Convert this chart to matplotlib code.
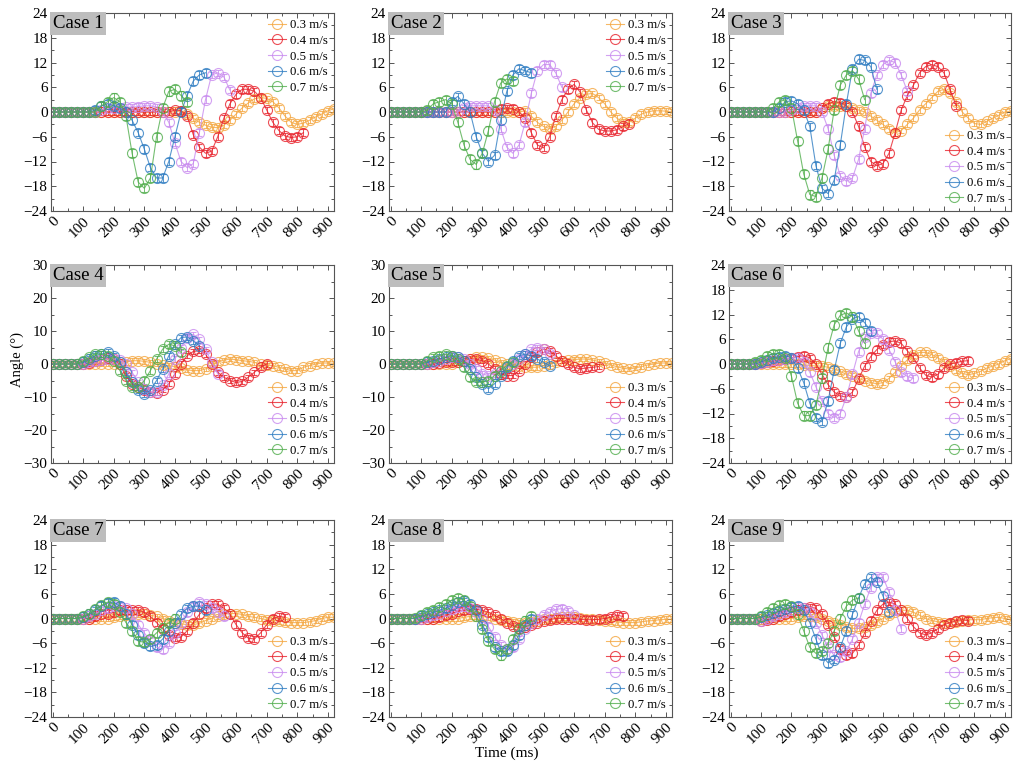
import numpy as np
import matplotlib
matplotlib.use("Agg")
import matplotlib.pyplot as plt
from matplotlib.ticker import MultipleLocator

plt.rcParams['font.family'] = ['Liberation Serif', 'DejaVu Serif']
plt.rcParams['mathtext.fontset'] = 'stix'

# angle (deg) sampled every 20 ms from t = 0, one list per walking speed
speeds = ['0.3 m/s', '0.4 m/s', '0.5 m/s', '0.6 m/s', '0.7 m/s']
colors = ['#F4A640', '#E8222C', '#C98BEF', '#2F7DC2', '#52AE4E']
err_deg = [0.7, 0.8, 0.8, 0.9, 1.0]

case1 = [
    [0]*21 + [0.3, -0.5, -1.5, -2.5, -3.2, -3.7, -3.8, -3.2, -2, -0.5, 1, 2.2, 3.2, 3.5, 3.3, 2.5, 1, -1, -2.5, -3, -2.7, -2, -1.2, -0.5, 0.3, 0.8],
    [0]*20 + [0.5, 0.3, -1, -5.5, -8.5, -10, -9.5, -6, -1.5, 2, 4.3, 5.5, 5.5, 5, 3.5, 0.5, -2.5, -4.5, -5.8, -6.2, -6, -5],
    [0]*8 + [0.5, 1, 1, 1, 1.2, 1.2, 1.3, 1.5, 1.5, 1.2, 0, -2.5, -7.5, -12, -13.5, -12.5, -5, 3, 9, 9.5, 8.5, 5.3],
    [0]*7 + [0.5, 1.5, 2, 1.5, 1, 0, -2, -5, -9, -13.5, -16, -16, -12, -6, 0, 4, 7.5, 9, 9.5],
    [0]*8 + [1.5, 2.5, 3.5, 2.5, -1, -10, -17, -18.5, -16, -6, 1, 5, 5.5, 4, 2.5],
]
case2 = [
    [0]*22 + [0.3, -1, -2.5, -3.5, -4, -3.5, -2, 0, 2, 3.5, 4.3, 4.5, 3.5, 2, 0, -1.5, -2.5, -2.5, -1.5, -0.5, 0, 0.3, 0.3, 0.2, 0],
    [0]*18 + [0.8, 1, 0.8, 0, -1.5, -5, -8, -8.7, -6, -1, 3, 5.5, 6.7, 4.8, 0.5, -2.6, -4.2, -4.6, -4.6, -4.3, -3.5, -2.8],
    [0]*12 + [1, 1.5, 1.5, 1.5, 1.5, 0.5, -4, -8.5, -10, -8, -2.5, 4.5, 10, 11.5, 11.5, 9.5, 6],
    [0]*10 + [2.5, 3.8, 2, 0, -6, -10, -12, -10.5, -2, 5, 9, 10.5, 10, 9.5],
    [0]*6 + [0.5, 2, 2.5, 3, 2, -2.5, -8, -11.5, -12.7, -10, -4.5, 2.5, 7, 8, 7.5],
]
case3 = [
    [0]*15 + [1, 1.5, 1.5, 1.5, 1.5, 1, 0.5, 0, -1, -2, -3, -4.2, -5, -4.5, -3, -1.5, 0.5, 2, 3.5, 5, 5.5, 4.5, 2.5, 0, -1.5, -2.8, -3, -2.3, -1.5, -0.8, 0, 0.2],
    [0]*15 + [1, 2, 2.5, 2.3, 1.5, 0, -3.5, -8.5, -12, -13, -12.5, -10, -5, 0.5, 4, 6.5, 9.5, 11, 11.5, 11, 9.5, 5.5, 1.5],
    [0]*10 + [0.5, 1, 1.5, 1.5, 1.5, 0, -4, -10.5, -15.5, -16.8, -16, -11.5, -4, 4.5, 9, 11.5, 12.5, 12, 9, 5],
    [0]*8 + [1, 2.5, 2.7, 2, 0.5, -3.5, -13, -18.5, -19.8, -16.5, -8, 2, 10.5, 12.8, 12.5, 11, 5.5],
    [0]*7 + [1, 2.5, 3, 1, -7, -15, -20, -20.5, -16, -9, 0.5, 6.5, 9, 10, 8, 3],
]
case4 = [
    [0]*12 + [0.5, 1, 1, 0.8, 0.5, 0, -0.3, -0.5, -0.8, -1.2, -1.8, -2, -2, -1.5, -0.5, 0.5, 1.2, 1.5, 1.3, 1, 0.8, 0.5, 0, -0.3, -0.5, -1, -1.5, -2, -2, -1, -0.5, 0, 0.3, 0.3, 0.2],
    [0]*6 + [0.3, 0.8, 1.2, 1.8, 1.5, 0, -3.5, -6, -7, -8, -8.5, -8.7, -7.8, -6, -3, 0, 2.5, 3.8, 4, 3, 0, -2.5, -4, -5, -5.6, -5.3, -4, -2.5, -1, 0],
    [0]*6 + [0.5, 1, 1.2, 1.5, 1.5, 1.2, 0, -2.5, -5.5, -7.5, -8.5, -8.5, -6.5, -3, 1.5, 5, 8, 9, 7.5, 4.5, 0.5, -3],
    [0]*5 + [0.5, 1.5, 2.5, 3, 3.5, 2.5, 0.5, -2.5, -5.5, -8, -9.2, -8, -5, -1.5, 2.5, 6, 8, 8.2, 7, 5.5],
    [0]*5 + [1, 2, 3, 3, 2.5, 1, -2, -5, -7, -7, -5, -2, 1.5, 4.5, 6, 5.5, 3.5],
]
case5 = [
    [0]*11 + [0.5, 1, 1.5, 2, 2, 1.8, 1.2, 0.5, 0, -0.3, -0.5, -0.8, -1, -1, -0.5, 0, 0.5, 1, 1.2, 1.3, 1.5, 1.5, 1.2, 0.8, 0.3, -0.3, -0.8, -1.3, -1.5, -1.2, -0.8, -0.3, 0, 0.3, 0.3, 0.2],
    [0]*8 + [0.3, 0.5, 0.5, 0.5, 1, 1.5, 1.5, 1, 0, -1.5, -3, -3.5, -3.5, -2, 0, 2, 3.5, 4.5, 4, 2.5, 1, 0, -1, -1.5, -1.2, -1, -0.8],
    [0]*7 + [0.5, 1, 1.5, 2, 2, 1.5, 0, -1.5, -3, -3.5, -3, -2, -1, 0, 1.5, 3, 4.5, 5, 4.5, 3],
    [0]*6 + [0.5, 1, 1.5, 2, 2.5, 2, 1, -1.5, -4, -6, -7.5, -6, -3.5, -1, 1, 2.5, 3, 2.5, 1.5, 0.5, -0.5],
    [0]*6 + [1, 2, 2.5, 3, 2.5, 1.5, -1, -4, -5.5, -5.5, -5, -3.5, -2, -0.5, 0.5],
]
case6 = [
    [0]*12 + [-0.2, -0.3, -0.5, -0.5, -0.8, -1.2, -1.8, -2.5, -3, -3.5, -4, -4.5, -4.8, -4.5, -3.5, -2, -0.5, 1, 2.2, 2.8, 2.8, 2.3, 1.5, 0.5, -0.5, -1.5, -2.3, -2.6, -2.3, -1.8, -1, -0.5, 0, 0.8, 1.3],
    [0]*4 + [0, 0.3, 0.5, 0.8, 1, 1.2, 1.5, 1.8, 2, 1.5, 0, -2.5, -5, -6.8, -7.8, -8, -6.8, -3.6, -0.5, 1.8, 3.5, 4.6, 5.4, 5.6, 5, 3.2, 1.5, -1, -2.7, -3.2, -2.5, -1, 0, 0.3, 0.7, 0.8],
    [0]*4 + [0, 0.3, 0.5, 1, 1, 1.2, 1.5, 1.5, 0.5, -2, -5.5, -9, -12, -13, -12, -8, -2.5, 3, 6.5, 7.5, 7.5, 6, 3.5, 0.5, -2, -3, -3.5],
    [0]*4 + [0, 0.5, 1, 1.5, 1.8, 2, 1.5, -1, -4.5, -9.5, -13, -14, -9, -1.5, 5, 9, 11, 11.5, 10, 8],
    [0]*4 + [0.5, 1, 2, 2.5, 2.5, 1.5, -3, -9.5, -12.5, -12.5, -10, -3.5, 4, 9.5, 11.8, 12.4, 11.5, 8, 5],
]
case7 = [
    [0]*10 + [0.3, 0.5, 0.8, 1, 1, 1, 0.8, 0.5, 0, -0.5, -1, -1.3, -1.5, -1.5, -1.2, -0.5, 0, 0.5, 1, 1.2, 1.2, 1, 0.5, 0.3, 0, -0.3, -0.5, -0.6, -0.8, -1, -1, -1, -0.8, -0.5, 0, 0.3, 0.3],
    [0]*6 + [0, 0.5, 1, 1.2, 1.5, 2, 2, 2, 2, 1.5, 0.5, -1, -2.5, -4, -4.8, -4.5, -3, -1, 1, 2.5, 3.5, 3.5, 2.5, 1, -1.5, -3.5, -4.8, -5, -3.5, -1.5, 0, 0.5, 0.3],
    [0]*6 + [0.5, 1, 2, 2.5, 3, 3, 2.5, 1, -1.5, -3.5, -5.5, -7, -7.5, -6, -3.5, -1, 1.5, 3, 4, 3.5, 2.5, 1.5, 0.5],
    [0]*5 + [0.3, 1, 2, 3, 3.8, 4, 3, 1, -1.5, -4, -6, -6.8, -6.5, -5, -3, -1, 1, 2.5, 3, 3, 2],
    [0]*5 + [0.5, 1.2, 2.2, 3.2, 4, 3.5, 1.5, -1, -3, -5.5, -5.8, -5, -3.5, -2.2, -1, 0],
]
case8 = [
    [0]*12 + [0.3, 0.5, 0.5, 0.5, 0.3, 0, -0.3, -0.5, -0.8, -1, -1, -0.8, -0.5, -0.2, 0, 0.2, 0.3, 0.3, 0.3, 0.2, 0, -0.2, -0.3, -0.5, -0.7, -0.8, -1, -1, -1, -0.8, -0.6, -0.5, -0.3, -0.2, -0.2],
    [0]*8 + [0.3, 0.8, 1.2, 1.8, 2, 2.2, 2.2, 2, 1.5, 0.8, 0, -1, -1.8, -2.2, -2, -1.5, -1, -0.5, -0.3, 0, 0, 0, 0, -0.2, -0.3, -0.3, -0.2, 0, 0.3, 0.8, 0.5],
    [0]*6 + [0.3, 0.8, 1.2, 1.8, 2.3, 2.8, 3, 2.5, 1.5, 0, -2, -4.5, -6.5, -7.5, -7, -5, -2.5, -1, 0, 0.8, 1.5, 2.2, 2.4, 1.8, 0.8],
    [0]*4 + [0, 0.5, 1, 1.5, 2, 2.5, 3.2, 4, 4.2, 3.5, 2, -1.5, -4.5, -7, -8, -8, -6.5, -4, -1.5, 0],
    [0]*4 + [0.2, 0.8, 1.5, 2, 2.8, 3.5, 4.5, 5, 4.5, 3, 0.5, -2.5, -5.5, -7.5, -9, -7.5, -5, -2.5, -0.5, 0.5],
]
case9 = [
    [0]*11 + [0.3, 0.5, 0.5, 0.3, 0, -0.5, -1, -1.5, -2, -2.4, -2.4, -2, -1.5, -0.8, 0, 0.8, 1.5, 2, 2, 1.5, 0.8, 0, -0.5, -0.8, -1, -1, -0.8, -0.5, -0.3, -0.3, -0.3, 0, 0.2, 0.3, 0, -0.3],
    [0]*5 + [-0.5, -0.3, 0, 0.5, 1, 1.5, 2, 2.5, 2.8, 2.5, 1, -1.5, -4.5, -7.5, -9, -8.5, -6.5, -3.5, -0.5, 2, 3.5, 4, 3.5, 2, 0, -2, -3.5, -4, -3.5, -2.5, -1.5, -1, -0.5, -0.3, -0.5],
    [0]*5 + [-0.5, 0, 0.5, 1, 1.5, 2, 2.5, 2.5, 1.5, -1, -4, -7, -9, -9.5, -8, -5, -1, 3.5, 7.5, 10, 10, 6.5, 2, -2.5],
    [0]*5 + [0.3, 0.8, 1.3, 1.8, 2.3, 2.8, 3, 2, -1, -5, -9, -10.8, -10, -7, -3, 1, 5, 8.5, 10, 9, 5.5, 1.5],
    [0]*5 + [0.5, 1.5, 2.5, 3.2, 3.5, 3, 1, -3, -7, -8.5, -8, -6, -3, 0, 3, 4.5, 5],
]

cases = [case1, case2, case3, case4, case5, case6, case7, case8, case9]
case_names = ['Case %d' % (i + 1) for i in range(9)]

W, H = 1023, 767
fig = plt.figure(figsize=(W / 100, H / 100), dpi=100)

col_left = [51, 389, 729]
col_w = [283, 283, 282]
row_top = [13, 265, 520]
row_h = [198, 198, 197]

for k, data in enumerate(cases):
    r, c = divmod(k, 3)
    ax = fig.add_axes([col_left[c] / W, 1 - (row_top[r] + row_h[r]) / H,
                       col_w[c] / W, row_h[r] / H])
    for j, vals in enumerate(data):
        t = np.arange(len(vals)) * 20
        ax.errorbar(t, vals, yerr=err_deg[j], color=colors[j], lw=0.8,
                    elinewidth=0.7, capsize=2, capthick=0.7,
                    marker='o', ms=7.2, mfc='none', mew=0.8, alpha=0.8,
                    label=speeds[j])

    ax.set_xlim(-5, 920)
    if k in (3, 4):
        ax.set_ylim(-30, 30)
        ax.yaxis.set_major_locator(MultipleLocator(10))
        ax.yaxis.set_minor_locator(MultipleLocator(5))
    else:
        ax.set_ylim(-24, 24)
        ax.yaxis.set_major_locator(MultipleLocator(6))
        ax.yaxis.set_minor_locator(MultipleLocator(3))
    ax.xaxis.set_major_locator(MultipleLocator(100))
    ax.xaxis.set_minor_locator(MultipleLocator(50))
    ax.tick_params(which='both', direction='in', top=True, right=True,
                   labelsize=11, width=0.7, color='#555555', pad=2.5)
    ax.tick_params(which='major', length=3.5)
    ax.tick_params(which='minor', length=2)
    for lab in ax.get_xticklabels():
        lab.set_rotation(45)
        lab.set_ha('right')
        lab.set_va('top')
        lab.set_rotation_mode('anchor')
    for sp in ax.spines.values():
        sp.set_linewidth(0.8)
        sp.set_color('#555555')

    ax.text(0.006, 0.99, case_names[k], transform=ax.transAxes, fontsize=13.5,
            ha='left', va='top',
            bbox=dict(boxstyle='square,pad=0.14', fc='#BDBDBD', ec='none'))

    handles, labels = ax.get_legend_handles_labels()
    handles = [h[0] for h in handles]
    ax.legend(handles, labels, loc='upper right' if k < 2 else 'lower right',
              frameon=False, fontsize=9.2, labelspacing=0.28, handlelength=1.4,
              handletextpad=0.3, borderaxespad=0.3, borderpad=0.2, numpoints=1)

fig.text(17 / W, 1 - 360 / H, 'Angle (°)', rotation=90, fontsize=10.5,
         ha='center', va='center')
fig.text(507 / W, 1 - 753 / H, 'Time (ms)', fontsize=11, ha='center', va='center')

fig.savefig('out.png', dpi=100)
